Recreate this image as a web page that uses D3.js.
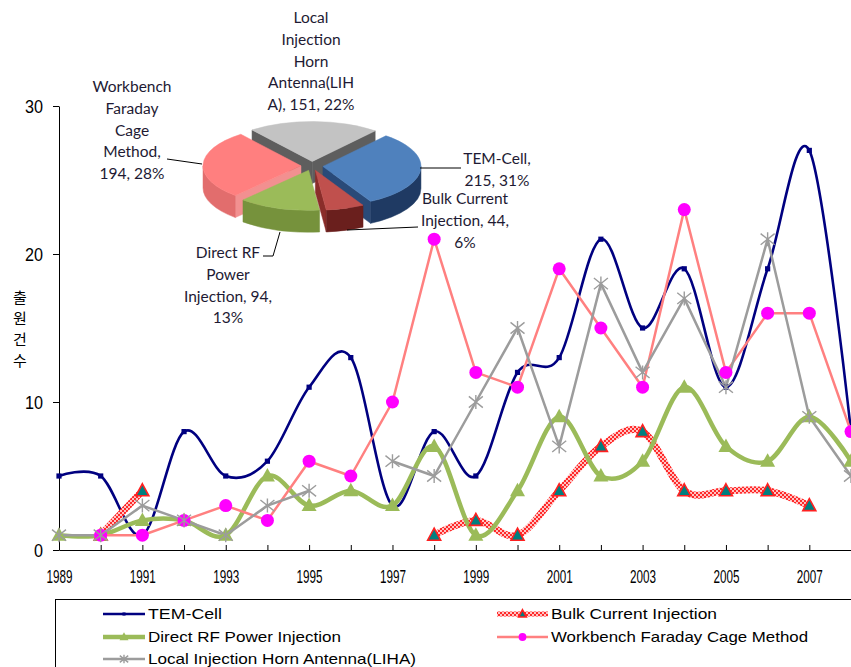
<!DOCTYPE html>
<html>
<head>
<meta charset="utf-8">
<script src="https://cdn.jsdelivr.net/npm/d3@7"></script>
<style>
  html, body { margin: 0; padding: 0; background: #fff; overflow: hidden; }
  svg { display: block; }
</style>
</head>
<body>
<svg id="chart" width="851" height="667"></svg>
<script>
// ---- yearly application counts (line chart) ----
const years = [1989, 1990, 1991, 1992, 1993, 1994, 1995, 1996, 1997, 1998,
               1999, 2000, 2001, 2002, 2003, 2004, 2005, 2006, 2007, 2008];
const temCell     = [5, 5, 1, 8, 5, 6, 11, 13, 3, 8, 5, 12, 13, 21, 15, 19, 11, 19, 27, 8];
const bulkCurrent = [null, 1, 4, null, null, null, null, null, null, 1, 2, 1, 4, 7, 8, 4, 4, 4, 3, null];
const directRF    = [1, 1, 2, 2, 1, 5, 3, 4, 3, 7, 1, 4, 9, 5, 6, 11, 7, 6, 9, 6];
const workbench   = [null, 1, 1, 2, 3, 2, 6, 5, 10, 21, 12, 11, 19, 15, 11, 23, 12, 16, 16, 8];
const liha        = [1, 1, 3, 2, 1, 3, 4, null, 6, 5, 10, 15, 7, 18, 12, 17, 11, 21, 9, 5];
const yTicks = [0, 10, 20, 30];
const yTitle = "출원건수";

const seriesNames = ["TEM-Cell", "Bulk Current Injection", "Direct RF Power Injection",
                     "Workbench Faraday Cage Method", "Local Injection Horn Antenna(LIHA)"];

// ---- totals per method (pie) ----
const pieCounts = [215, 44, 94, 194, 151];
// wrapped label text; {v} = count, {p} = percentage
const pieLabelWrap = [
  ["TEM-Cell,", "{v}, {p}"],
  ["Bulk Current", "Injection, {v},", "{p}"],
  ["Direct RF", "Power", "Injection, {v},", "{p}"],
  ["Workbench", "Faraday", "Cage", "Method,", "{v}, {p}"],
  ["Local", "Injection", "Horn", "Antenna(LIH", "A), {v}, {p}"]
];

// ---- styling ----
const styles = [
  { color: "#000080", width: 2.6, smooth: true,  marker: "square" },
  { color: "url(#hatch)", width: 7, smooth: true, marker: "tri-teal" },
  { color: "#9BBB59", width: 4.5, smooth: true,  marker: "tri-green" },
  { color: "#FF8080", width: 2.5, smooth: false, marker: "circle" },
  { color: "#9C9C9C", width: 2.5, smooth: false, marker: "star" }
];
const pieStyles = [
  { top: "#4F81BD", wall: "#1F3A63", face: "#2A4A78" },
  { top: "#C0504D", wall: "#6A1F1D", face: "#8A2D2A" },
  { top: "#9BBB59", wall: "#76923C", face: "#6A8434" },
  { top: "#FF7F7F", wall: "#E26D6D", face: "#F29090" },
  { top: "#C3C3C3", wall: "#6E6E6E", face: "#5E5E5E" }
];

const svg = d3.select("#chart");
const defs = svg.append("defs");
const hatch = defs.append("pattern").attr("id", "hatch")
  .attr("width", 4).attr("height", 4).attr("patternUnits", "userSpaceOnUse");
hatch.append("rect").attr("width", 4).attr("height", 4).attr("fill", "#FFC4C4");
hatch.append("rect").attr("width", 2).attr("height", 2).attr("fill", "#FF2A2A");
hatch.append("rect").attr("x", 2).attr("y", 2).attr("width", 2).attr("height", 2).attr("fill", "#FF2A2A");

// ---- scales ----
const x = d3.scalePoint().domain(years).range([59, 851]).padding(0);
const y = d3.scaleLinear().domain([0, 30]).range([550, 106]);

// ---- axes ----
const tickFont = "'Liberation Sans Narrow', 'Liberation Sans', Arial, sans-serif";
const xAxis = svg.append("g").attr("transform", "translate(0,550)")
  .call(d3.axisBottom(x).tickSizeInner(-5).tickSizeOuter(0).tickPadding(20)
    .tickFormat(d => ((d - years[0]) % 2 === 0 ? String(d) : "")));
xAxis.selectAll("text").attr("font-family", tickFont).attr("font-size", 18.5)
  .attr("fill", "#000")
  .each(function () { if (this.textContent) d3.select(this).attr("textLength", 26).attr("lengthAdjust", "spacingAndGlyphs"); });

const yAxis = svg.append("g").attr("transform", "translate(59,0)")
  .call(d3.axisLeft(y).tickValues(yTicks).tickSizeInner(6).tickSizeOuter(0).tickPadding(10));
yAxis.selectAll("text").attr("font-family", tickFont).attr("font-size", 19).attr("fill", "#000")
  .each(function () { d3.select(this).attr("textLength", this.textContent.length * 9).attr("lengthAdjust", "spacingAndGlyphs"); });

svg.selectAll(".domain, .tick line").attr("stroke", "#000").attr("stroke-width", 1);

// vertical axis title, characters stacked upright
const titleText = svg.append("text")
  .attr("text-anchor", "middle")
  .attr("font-family", "'Noto Sans CJK KR', sans-serif").attr("font-size", 15)
  .attr("fill", "#000");
Array.from(yTitle).forEach((ch, k) => {
  titleText.append("tspan").attr("x", 20).attr("y", 298 + k * 20.7).attr("dy", "0.36em").text(ch);
});

// ---- lines ----
const seriesValues = [temCell, bulkCurrent, directRF, workbench, liha];
const seriesData = seriesValues.map((vals, i) => ({
  name: seriesNames[i],
  style: styles[i],
  points: years.map((yr, j) => ({ year: yr, value: vals[j] }))
}));

const lineGen = smooth => d3.line()
  .defined(d => d.value != null)
  .x(d => x(d.year)).y(d => y(d.value))
  .curve(smooth ? d3.curveCardinal.tension(0) : d3.curveLinear);

const gLines = svg.append("g");
seriesData.forEach(s => {
  gLines.append("path")
    .attr("d", lineGen(s.style.smooth)(s.points))
    .attr("fill", "none")
    .attr("stroke", s.style.color)
    .attr("stroke-width", s.style.width)
    .attr("stroke-linejoin", "round");
});

function drawMarker(g, kind, cx, cy, k) {
  k = k || 1;
  if (kind === "square") {
    g.append("rect").attr("x", cx - 2.6 * k).attr("y", cy - 2.6 * k)
      .attr("width", 5.2 * k).attr("height", 5.2 * k).attr("fill", "#000080");
  } else if (kind === "tri-teal") {
    g.append("path")
      .attr("d", `M${cx},${cy - 7 * k}L${cx + 6.5 * k},${cy + 5 * k}L${cx - 6.5 * k},${cy + 5 * k}Z`)
      .attr("fill", "#007F7F").attr("stroke", "#FF2020").attr("stroke-width", 1.6);
  } else if (kind === "tri-green") {
    g.append("path")
      .attr("d", `M${cx},${cy - 8 * k}L${cx + 7.5 * k},${cy + 5.5 * k}L${cx - 7.5 * k},${cy + 5.5 * k}Z`)
      .attr("fill", "#9BBB59");
  } else if (kind === "circle") {
    g.append("circle").attr("cx", cx).attr("cy", cy).attr("r", 6.5 * k).attr("fill", "#FF00FF");
  } else if (kind === "star") {
    const r = 7 * k;
    g.append("path")
      .attr("d", `M${cx - r},${cy - r * 0.8}L${cx + r},${cy + r * 0.8}M${cx - r},${cy + r * 0.8}L${cx + r},${cy - r * 0.8}M${cx},${cy - r}L${cx},${cy + r}`)
      .attr("stroke", "#9C9C9C").attr("stroke-width", 1.4).attr("fill", "none");
  }
}

const gMarks = svg.append("g");
seriesData.forEach(s => {
  s.points.filter(p => p.value != null).forEach(p => {
    drawMarker(gMarks, s.style.marker, x(p.year), y(p.value));
  });
});

// ---- legend ----
const gLeg = svg.append("g");
gLeg.append("rect").attr("x", 55.5).attr("y", 599.5).attr("width", 820).attr("height", 90)
  .attr("fill", "#fff").attr("stroke", "#000").attr("stroke-width", 1);
const legendPos = [
  { x0: 103, x1: 145, y: 614 },
  { x0: 497, x1: 548, y: 614 },
  { x0: 103, x1: 145, y: 637 },
  { x0: 497, x1: 548, y: 637 },
  { x0: 103, x1: 145, y: 659 }
];
const legendTextLen = [74, 166, 193, 257, 268];
seriesData.forEach((s, i) => {
  const p = legendPos[i];
  gLeg.append("line").attr("x1", p.x0).attr("x2", p.x1).attr("y1", p.y).attr("y2", p.y)
    .attr("stroke", s.style.color).attr("stroke-width", Math.min(s.style.width, 5));
  drawMarker(gLeg, s.style.marker, (p.x0 + p.x1) / 2, p.y, 0.6);
  gLeg.append("text").attr("x", p.x1 + 3).attr("y", p.y).attr("dy", "0.36em")
    .attr("font-family", "'Liberation Sans', Arial, sans-serif").attr("font-size", 15)
    .attr("textLength", legendTextLen[i]).attr("lengthAdjust", "spacingAndGlyphs")
    .attr("fill", "#000").text(s.name);
});

// ---- 3D exploded pie ----
const pcx = 312, pcy = 166, prx = 98, pry = 40, depth = 22, explode = 11;
const startA = 40 * Math.PI / 180;
const pieRows = pieCounts.map((c, i) => ({ name: seriesNames[i], count: c, i }));
const total = d3.sum(pieCounts);
const arcs = d3.pie().sort(null).value(d => d.count)
  .startAngle(startA).endAngle(startA + 2 * Math.PI)(pieRows);

function pt(a, ox, oy, dz) {
  return [pcx + ox + prx * Math.sin(a), pcy + oy - pry * Math.cos(a) + (dz || 0)];
}
const gPie = svg.append("g");
const slices = arcs.map(a => {
  const mid = (a.startAngle + a.endAngle) / 2;
  return {
    a0: a.startAngle, a1: a.endAngle, mid, data: a.data,
    ox: explode * Math.sin(mid), oy: -explode * (pry / prx) * Math.cos(mid)
  };
}).sort((p, q) => (-Math.cos(p.mid)) - (-Math.cos(q.mid)));

slices.forEach(s => {
  const st = pieStyles[s.data.i];
  const c = [pcx + s.ox, pcy + s.oy];
  const g = gPie.append("g");
  // radial cut faces
  const face = a => {
    const p = pt(a, s.ox, s.oy), pb = pt(a, s.ox, s.oy, depth);
    g.append("path")
      .attr("d", `M${c[0]},${c[1]}L${p[0]},${p[1]}L${pb[0]},${pb[1]}L${c[0]},${c[1] + depth}Z`)
      .attr("fill", st.face).attr("stroke", st.face).attr("stroke-width", 0.5);
  };
  if (Math.sin(s.a0) < 0) face(s.a0);
  if (Math.sin(s.a1) > 0) face(s.a1);
  // outer wall (front half only)
  [[Math.PI / 2, 1.5 * Math.PI], [2.5 * Math.PI, 3.5 * Math.PI]].forEach(([lo, hi]) => {
    const b0 = Math.max(s.a0, lo), b1 = Math.min(s.a1, hi);
    if (b1 <= b0) return;
    const p0 = pt(b0, s.ox, s.oy), p1 = pt(b1, s.ox, s.oy);
    const q0 = pt(b0, s.ox, s.oy, depth), q1 = pt(b1, s.ox, s.oy, depth);
    const large = (b1 - b0) > Math.PI ? 1 : 0;
    g.append("path")
      .attr("d", `M${p0[0]},${p0[1]}A${prx},${pry} 0 ${large} 1 ${p1[0]},${p1[1]}` +
                 `L${q1[0]},${q1[1]}A${prx},${pry} 0 ${large} 0 ${q0[0]},${q0[1]}Z`)
      .attr("fill", st.wall).attr("stroke", st.wall).attr("stroke-width", 0.5);
  });
  // top surface
  const p0 = pt(s.a0, s.ox, s.oy), p1 = pt(s.a1, s.ox, s.oy);
  const large = (s.a1 - s.a0) > Math.PI ? 1 : 0;
  g.append("path")
    .attr("d", `M${c[0]},${c[1]}L${p0[0]},${p0[1]}A${prx},${pry} 0 ${large} 1 ${p1[0]},${p1[1]}Z`)
    .attr("fill", st.top).attr("stroke", st.top).attr("stroke-width", 0.5);
});

// leader lines
const leaders = [
  [[420, 168], [461, 168]],
  [[347, 230], [418, 227]],
  [[280, 232], [273, 256], [263, 256]],
  [[202, 164], [167, 159]],
];
leaders.forEach(pts => {
  gPie.append("path").attr("d", d3.line()(pts))
    .attr("fill", "none").attr("stroke", "#000").attr("stroke-width", 1);
});

// data labels
const labelAnchors = [
  { x: 497, y: 159 },
  { x: 465, y: 199 },
  { x: 228, y: 253 },
  { x: 132, y: 87 },
  { x: 311, y: 18 }
];
const pctFmt = d3.format(".0%");
pieRows.forEach((r, i) => {
  const pct = pctFmt(r.count / total);
  const lines = pieLabelWrap[i].map(t => t.replace("{v}", r.count).replace("{p}", pct));
  const t = gPie.append("text")
    .attr("font-family", "Lato, 'Open Sans', sans-serif").attr("font-size", 15.5)
    .attr("fill", "#1E1A33").attr("text-anchor", "middle");
  lines.forEach((ln, k) => {
    t.append("tspan").attr("x", labelAnchors[i].x).attr("y", labelAnchors[i].y + k * 21.6)
      .attr("dy", "0.35em").text(ln);
  });
});
</script>
</body>
</html>
